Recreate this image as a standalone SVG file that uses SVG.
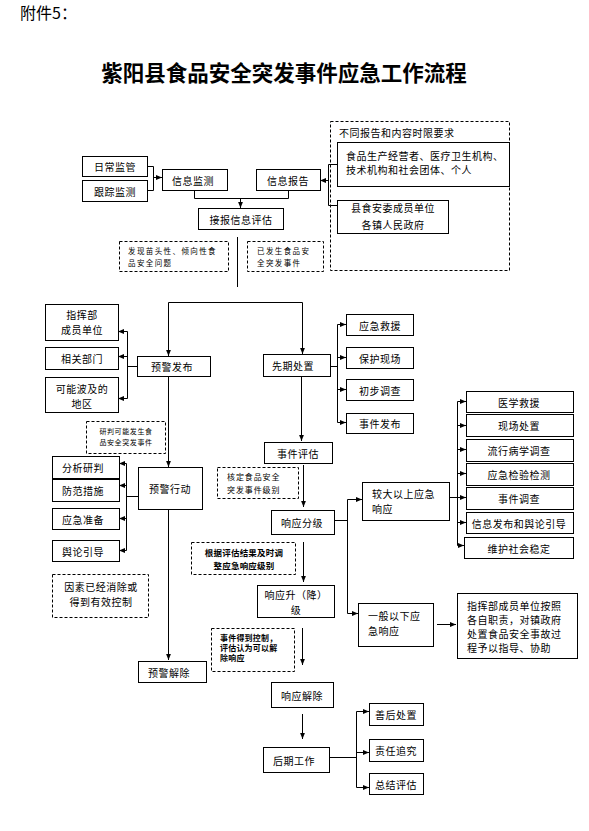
<svg xmlns="http://www.w3.org/2000/svg" width="589" height="831" viewBox="0 0 589 831">
<style>
.b{fill:#fff;stroke:#000;stroke-width:1}
.d{fill:none;stroke:#000;stroke-width:1;stroke-dasharray:3 2}
.t{font-family:"Noto Sans CJK SC","Noto Sans",sans-serif;font-size:10px;fill:#000;dominant-baseline:central;letter-spacing:0.5px}
.c{text-anchor:middle}
.s{font-size:7.5px;letter-spacing:1.4px}
.k{font-size:8px;font-weight:bold;letter-spacing:0.2px}
.l{stroke:#000;stroke-width:1;fill:none}
.a{marker-end:url(#ah)}
</style>
<defs>
<marker id="ah" viewBox="0 0 10 10" refX="10" refY="5" markerWidth="6" markerHeight="6" orient="auto" markerUnits="userSpaceOnUse"><path d="M0,1 L10,5 L0,9 z" fill="#000"/></marker>
</defs>
<rect width="589" height="831" fill="#fff"/>
<text x="20" y="19" font-family="'Noto Sans CJK SC',sans-serif" font-size="16" fill="#000">附件5：</text>
<text x="284" y="81" font-family="'Noto Sans CJK SC',sans-serif" font-size="21.5" font-weight="bold" text-anchor="middle" fill="#000">紫阳县食品安全突发事件应急工作流程</text>

<g id="connectors">
<path class="l" d="M147.5,166.5H153.5V190.5H147.5"/>
<path class="l a" d="M153.5,177.5H162"/>
<path class="l" d="M194.5,190V198.5H288.5V190"/>
<path class="l a" d="M240.5,198.5V208"/>
<path class="l a" d="M328.5,180.5H320"/>
<path class="l" d="M337,164.5H328.5V205.5H337"/>
<path class="l" d="M237.5,237V287"/>
<path class="l" d="M168.5,356V302.5H302.5V354"/>
<path class="l a" d="M168.5,330V356"/>
<path class="l a" d="M302.5,330V354"/>
<path class="l" d="M137,366.5H127.5"/>
<path class="l" d="M127.5,331.5V398.5"/>
<path class="l a" d="M127.5,331.5H118"/>
<path class="l a" d="M127.5,356.5H118"/>
<path class="l a" d="M127.5,398.5H118"/>
<path class="l a" d="M168.5,376V467"/>
<path class="l" d="M138,496.5H126.5"/>
<path class="l" d="M126.5,463.5V550.5"/>
<path class="l a" d="M126.5,463.5H119"/>
<path class="l a" d="M126.5,485.5H119"/>
<path class="l a" d="M126.5,518.5H119"/>
<path class="l a" d="M126.5,550.5H119"/>
<path class="l a" d="M168.5,509V660"/>
<path class="l" d="M330,366.5H337.5"/>
<path class="l" d="M337.5,324.5V422.5"/>
<path class="l a" d="M337.5,324.5H346"/>
<path class="l a" d="M337.5,357.5H346"/>
<path class="l a" d="M337.5,389.5H346"/>
<path class="l a" d="M337.5,422.5H346"/>
<path class="l a" d="M301.5,376V441"/>
<path class="l a" d="M303.5,465V507"/>
<path class="l a" d="M303.5,542V582"/>
<path class="l" d="M334,520.5H347.5"/>
<path class="l" d="M347.5,499.5V613.5"/>
<path class="l a" d="M347.5,499.5H362"/>
<path class="l a" d="M347.5,613.5H358"/>
<path class="l" d="M449,497.5H457.5"/>
<path class="l" d="M457.5,401.5V545.5"/>
<path class="l a" d="M457.5,401.5H466"/>
<path class="l a" d="M457.5,425.5H466"/>
<path class="l a" d="M457.5,449.5H466"/>
<path class="l a" d="M457.5,473.5H466"/>
<path class="l a" d="M457.5,497.5H466"/>
<path class="l a" d="M457.5,522.5H466"/>
<path class="l a" d="M457.5,545.5H464"/>
<path class="l a" d="M437,624.5H456"/>
<path class="l a" d="M302.5,628V665"/>
<path class="l a" d="M302.5,714V739"/>
<path class="l" d="M329,757.5H356.5"/>
<path class="l" d="M356.5,711.5V787.5"/>
<path class="l a" d="M356.5,711.5H369"/>
<path class="l a" d="M356.5,752.5H369"/>
<path class="l a" d="M356.5,787.5H369"/>
</g>

<g id="n-richang"><rect class="b" x="82.5" y="156.5" width="65" height="20"/><text class="t c" x="115" y="166.5">日常监管</text></g>
<g id="n-genzong"><rect class="b" x="82.5" y="180.5" width="65" height="21"/><text class="t c" x="115" y="191">跟踪监测</text></g>
<g id="n-xxjc"><rect class="b" x="162.5" y="169.5" width="65" height="21"/><text class="t c" x="193" y="180">信息监测</text></g>
<g id="n-xxbg"><rect class="b" x="256.5" y="169.5" width="64" height="21"/><text class="t c" x="288" y="180">信息报告</text></g>
<g id="n-jbpg"><rect class="b" x="198.5" y="208.5" width="85" height="21"/><text class="t c" x="241" y="219">接报信息评估</text></g>
<g id="d-miaotou"><rect class="d" x="119.5" y="241.5" width="109" height="30"/><text class="t s" x="128" y="250">发现苗头性、倾向性食</text><text class="t s" x="128" y="262">品安全问题</text></g>
<g id="d-yifasheng"><rect class="d" x="247.5" y="241.5" width="76" height="30"/><text class="t s" x="257" y="250">已发生食品安</text><text class="t s" x="257" y="262">全突发事件</text></g>
<g id="d-shixian"><rect class="d" x="330.5" y="121.5" width="179" height="149"/><text class="t" x="339" y="132">不同报告和内容时限要求</text></g>
<g id="n-shipin"><rect class="b" x="337.5" y="142.5" width="172" height="44"/><text class="t" x="346" y="155">食品生产经营者、医疗卫生机构、</text><text class="t" x="346" y="169">技术机构和社会团体、个人</text></g>
<g id="n-xianshian"><rect class="b" x="337.5" y="200.5" width="111" height="33"/><text class="t c" x="393" y="207">县食安委成员单位</text><text class="t c" x="393" y="224">各镇人民政府</text></g>

<g id="n-zhihuibu"><rect class="b" x="45.5" y="304.5" width="73" height="36"/><text class="t c" x="82" y="314">指挥部</text><text class="t c" x="82" y="329">成员单位</text></g>
<g id="n-xiangguan"><rect class="b" x="45.5" y="347.5" width="73" height="22"/><text class="t c" x="82" y="358.5">相关部门</text></g>
<g id="n-keneng"><rect class="b" x="45.5" y="377.5" width="73" height="35"/><text class="t c" x="82" y="388.5">可能波及的</text><text class="t c" x="82" y="403.5">地区</text></g>
<g id="n-yjfb"><rect class="b" x="137.5" y="356.5" width="73" height="20"/><text class="t c" x="172" y="366.5">预警发布</text></g>
<g id="d-yanpan"><rect class="d" x="86.5" y="421.5" width="79" height="32"/><text class="t c" x="126" y="431" style="font-size:7px;letter-spacing:0.6px">研判可能发生食</text><text class="t c" x="126" y="442" style="font-size:7px;letter-spacing:0.6px">品安全突发事件</text></g>
<g id="n-yjxd"><rect class="b" x="138.5" y="467.5" width="64" height="42"/><text class="t c" x="170" y="488.5">预警行动</text></g>
<g id="n-fenxi"><rect class="b" x="52.5" y="456.5" width="67" height="22"/><text class="t" x="62" y="467.5">分析研判</text></g>
<g id="n-fangfan"><rect class="b" x="52.5" y="479.5" width="67" height="22"/><text class="t" x="62" y="490.5">防范措施</text></g>
<g id="n-yjzb"><rect class="b" x="52.5" y="508.5" width="67" height="21"/><text class="t" x="62" y="519">应急准备</text></g>
<g id="n-yulun"><rect class="b" x="52.5" y="540.5" width="67" height="21"/><text class="t" x="62" y="551">舆论引导</text></g>
<g id="d-yinsu"><rect class="d" x="52.5" y="574.5" width="96" height="43"/><text class="t c" x="101" y="586">因素已经消除或</text><text class="t c" x="101" y="601">得到有效控制</text></g>
<g id="n-yjjc"><rect class="b" x="138.5" y="661.5" width="68" height="21"/><text class="t c" x="169" y="672">预警解除</text></g>

<g id="n-xqcz"><rect class="b" x="263.5" y="354.5" width="67" height="22"/><text class="t c" x="293" y="365.5">先期处置</text></g>
<g id="n-yjjy"><rect class="b" x="346.5" y="314.5" width="67" height="21"/><text class="t c" x="380" y="325">应急救援</text></g>
<g id="n-bhxc"><rect class="b" x="346.5" y="347.5" width="67" height="21"/><text class="t c" x="380" y="358">保护现场</text></g>
<g id="n-cbdc"><rect class="b" x="346.5" y="379.5" width="67" height="21"/><text class="t c" x="380" y="390">初步调查</text></g>
<g id="n-sjfb"><rect class="b" x="346.5" y="413.5" width="67" height="20"/><text class="t c" x="380" y="423.5">事件发布</text></g>
<g id="n-sjpg"><rect class="b" x="264.5" y="442.5" width="68" height="21"/><text class="t c" x="298" y="453">事件评估</text></g>
<g id="d-heding"><rect class="d" x="217.5" y="467.5" width="81" height="31"/><text class="t" x="227" y="476" style="font-size:8px;letter-spacing:0.9px">核定食品安全</text><text class="t" x="227" y="489" style="font-size:8px;letter-spacing:0.9px">突发事件级别</text></g>
<g id="n-xyfj"><rect class="b" x="271.5" y="510.5" width="63" height="24"/><text class="t c" x="302" y="522.5">响应分级</text></g>
<g id="d-genju"><rect class="d" x="191.5" y="542.5" width="104" height="32"/><text class="t c k" x="244" y="552" style="font-size:8.5px">根据评估结果及时调</text><text class="t c k" x="244" y="565" style="font-size:8.5px">整应急响应级别</text></g>
<g id="n-xysj"><rect class="b" x="257.5" y="585.5" width="77" height="32"/><text class="t c" x="296" y="594.5">响应升（降）</text><text class="t c" x="296" y="609">级</text></g>
<g id="d-kongzhi"><rect class="d" x="211.5" y="628.5" width="83" height="43"/><text class="t k" x="220" y="637">事件得到控制，</text><text class="t k" x="220" y="647">评估认为可以解</text><text class="t k" x="220" y="657">除响应</text></g>
<g id="n-xyjc"><rect class="b" x="271.5" y="682.5" width="62" height="25"/><text class="t c" x="302" y="695">响应解除</text></g>
<g id="n-hqgz"><rect class="b" x="263.5" y="747.5" width="66" height="25"/><text class="t c" x="294" y="760">后期工作</text></g>

<g id="n-jiaoda"><rect class="b" x="362.5" y="482.5" width="87" height="38"/><text class="t" x="372" y="493.5">较大以上应急</text><text class="t" x="372" y="508.5">响应</text></g>
<g id="n-yxjy"><rect class="b" x="466.5" y="391.5" width="107" height="21"/><text class="t c" x="519" y="402">医学救援</text></g>
<g id="n-xccz"><rect class="b" x="466.5" y="414.5" width="107" height="22"/><text class="t c" x="519" y="425.5">现场处置</text></g>
<g id="n-lxbx"><rect class="b" x="466.5" y="439.5" width="107" height="22"/><text class="t c" x="519" y="450.5">流行病学调查</text></g>
<g id="n-yjjy2"><rect class="b" x="466.5" y="463.5" width="107" height="22"/><text class="t c" x="519" y="474.5">应急检验检测</text></g>
<g id="n-sjdc"><rect class="b" x="466.5" y="487.5" width="107" height="22"/><text class="t c" x="519" y="498.5">事件调查</text></g>
<g id="n-xxfb"><rect class="b" x="466.5" y="512.5" width="107" height="21"/><text class="t c" x="519" y="523">信息发布和舆论引导</text></g>
<g id="n-whwd"><rect class="b" x="464.5" y="537.5" width="109" height="21"/><text class="t c" x="519" y="548">维护社会稳定</text></g>
<g id="n-yiban"><rect class="b" x="358.5" y="603.5" width="75" height="43"/><text class="t" x="368" y="615">一般以下应</text><text class="t" x="368" y="630">急响应</text></g>
<g id="n-zhidao"><rect class="b" x="457.5" y="593.5" width="120" height="65"/><text class="t" x="467" y="605">指挥部成员单位按照</text><text class="t" x="467" y="619">各自职责，对镇政府</text><text class="t" x="467" y="633">处置食品安全事故过</text><text class="t" x="467" y="647">程予以指导、协助</text></g>

<g id="n-shanhou"><rect class="b" x="369.5" y="703.5" width="54" height="22"/><text class="t c" x="396" y="714.5">善后处置</text></g>
<g id="n-zeren"><rect class="b" x="369.5" y="739.5" width="54" height="22"/><text class="t c" x="396" y="750.5">责任追究</text></g>
<g id="n-zongjie"><rect class="b" x="369.5" y="773.5" width="54" height="21"/><text class="t c" x="396" y="784">总结评估</text></g>
</svg>
